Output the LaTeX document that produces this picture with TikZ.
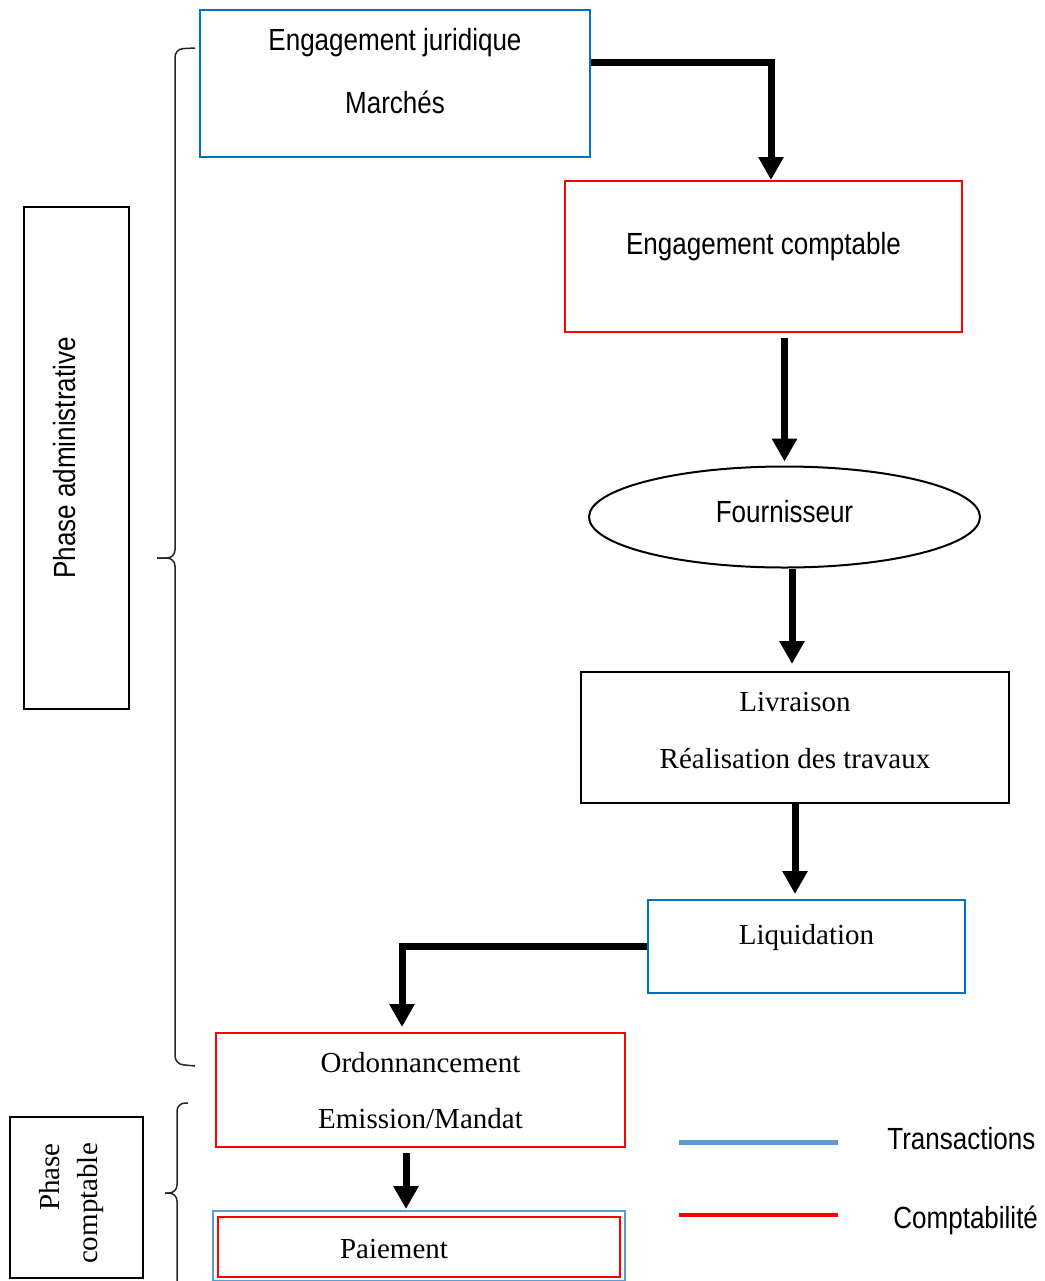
\documentclass[tikz,border=0pt]{standalone}
\usepackage{fontspec}
\setmainfont{Liberation Serif}
\newfontfamily\narrowsans[FakeStretch=0.85]{Liberation Sans}
\usetikzlibrary{arrows.meta,shapes.geometric}
\definecolor{jurblue}{RGB}{0,112,192}
\definecolor{legblue}{RGB}{91,155,213}
\definecolor{cptred}{RGB}{255,0,0}
\newcommand{\sanstext}{\narrowsans\fontsize{15.3}{18.4}\selectfont}
\newcommand{\seriftext}{\fontsize{14.5}{17.4}\selectfont}
\newcommand{\boxtext}[3][c]{\raisebox{#2}[0pt][0pt]{\begin{tabular}[b]{@{}#1@{}}#3\end{tabular}}}
\tikzset{
    stagebox/.style={rectangle,draw,line width=1pt,inner sep=0pt},
    jurbox/.style={stagebox,draw=jurblue},
    cptbox/.style={stagebox,draw=cptred},
    supplier/.style={ellipse,draw,line width=1pt,inner sep=0pt},
    phasebox/.style={stagebox,rotate=90},
    flowarrow/.style={-{Triangle[width=12pt,length=11.5pt]},line width=3.5pt},
    bracket/.style={line width=0.75pt,black!85,rounded corners=4pt},
    legtext/.style={font=\sanstext,anchor=base west,inner sep=0pt}
}
\begin{document}
\begin{tikzpicture}[x=0.5pt,y=-0.5pt]
    \useasboundingbox (0,0) rectangle (1045,1281);
    % phases
    \node[phasebox,font=\sanstext,minimum width=251pt,minimum height=52.5pt] (phadm) at (76.5,458) {\boxtext{0.75pt}{Phase administrative}};
    \node[phasebox,font=\seriftext,minimum width=80.5pt,minimum height=66.5pt] (phcpt) at (76.5,1197.5) {\boxtext[r]{-10.25pt}{Phase\\[1.6pt]comptable}\hspace*{6pt}};
    \draw[bracket] (195,48) -- (175,49) -- (175,558) -- (157,558);
    \draw[bracket] (157,558) -- (175,558) -- (175,1064) -- (195,1066);
    \draw[bracket] (188,1103) -- (177,1103) -- (177,1193) -- (165,1193);
    \draw[bracket] (165,1193) -- (177,1193) -- (177,1295);
    % stages
    \node[jurbox,font=\sanstext,minimum width=195pt,minimum height=73.5pt] (engjur) at (395,83.5) {\boxtext{-14.75pt}{Engagement juridique\\[13.1pt]Marchés}};
    \node[cptbox,font=\sanstext,minimum width=198.5pt,minimum height=75.5pt] (engcpt) at (763.5,256.5) {\boxtext{1.25pt}{Engagement comptable}};
    \node[supplier,font=\sanstext,minimum width=195.5pt,minimum height=50.5pt] (fourn) at (784.5,517) {\boxtext{-2.5pt}{Fournisseur}};
    \node[stagebox,font=\seriftext,minimum width=214pt,minimum height=65.5pt] (livr) at (795,737.5) {\boxtext{-15.25pt}{Livraison\\[11.1pt]Réalisation des travaux}};
    \node[jurbox,font=\seriftext,minimum width=158.5pt,minimum height=46.5pt] (liq) at (806.5,946.5) {\boxtext{1.25pt}{Liquidation}};
    \node[cptbox,font=\seriftext,minimum width=204.5pt,minimum height=57pt] (ord) at (420.5,1090) {\boxtext{-19pt}{Ordonnancement\\[10.6pt]Emission/Mandat}};
    \node[cptbox,font=\seriftext,minimum width=201pt,minimum height=30pt] (paie) at (419,1247) {\boxtext{-5.5pt}{Paiement}\hspace*{25pt}};
    \draw[legblue,line width=1pt] ([shift={(-2pt,2.5pt)}]paie.north west) rectangle ([shift={(2pt,-1.5pt)}]paie.south east);
    % flow
    \draw[flowarrow] ([yshift=10.75pt]engjur.east) -| ([xshift=3.75pt]engcpt.north);
    \draw[flowarrow,shorten <=2.5pt,shorten >=2pt] (fourn.north |- engcpt.south) -- (fourn.north);
    \draw[flowarrow,shorten >=3.5pt] ([xshift=3.75pt]fourn.south) -- ([xshift=3.75pt]fourn.south |- livr.north);
    \draw[flowarrow,shorten >=2.5pt] (livr.south) -- (livr.south |- liq.north);
    \draw[flowarrow,shorten >=2.5pt] (liq.west) -| ([xshift=-9.25pt]ord.north);
    \draw[flowarrow,shorten <=2.5pt,shorten >=3.5pt] ([xshift=-7.25pt]ord.south) -- ([xshift=-6.5pt]paie.north);
    % legend
    \coordinate (transa) at (679,1142);
    \coordinate (transb) at (838,1142);
    \coordinate (compta) at (679,1215);
    \coordinate (comptb) at (838,1215);
    \draw[legblue,line width=2.5pt] (transa) -- (transb);
    \draw[cptred,line width=2pt] (compta) -- (comptb);
    \node[legtext] (transtxt) at (887,1149) {Transactions};
    \node[legtext] (compttxt) at (893,1228) {Comptabilité};
\end{tikzpicture}
\end{document}
